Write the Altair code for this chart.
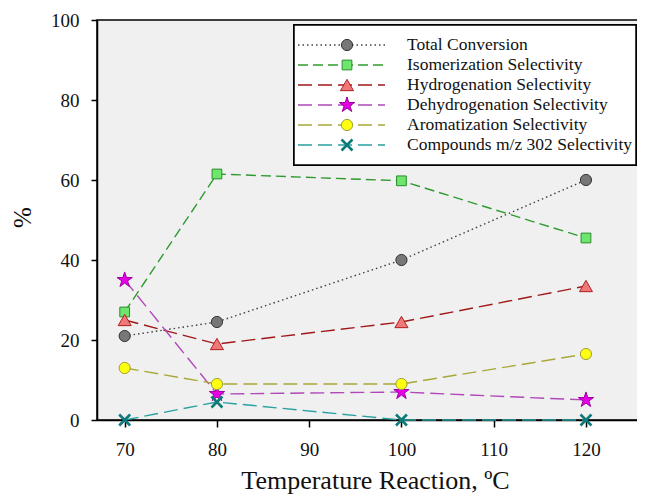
import altair as alt
import pandas as pd

# ---- data ----
temps = [70, 80, 100, 120]
series = [
    "Total Conversion",
    "Isomerization Selectivity",
    "Hydrogenation Selectivity",
    "Dehydrogenation Selectivity",
    "Aromatization Selectivity",
    "Compounds m/z 302 Selectivity",
]
total_conv = [21.0, 24.5, 40.0, 60.0]
isomer = [27.0, 61.5, 59.8, 45.5]
hydro = [25.0, 19.0, 24.5, 33.5]
dehydro = [35.0, 6.5, 7.0, 5.0]
aromat = [13.0, 9.0, 9.0, 16.5]
compounds = [0.0, 4.5, 0.0, 0.0]
x_ticks = [70, 80, 90, 100, 110, 120]
y_ticks = [0, 20, 40, 60, 80, 100]

values = [total_conv, isomer, hydro, dehydro, aromat, compounds]
rows = []
for name, vals in zip(series, values):
    for t, v in zip(temps, vals):
        rows.append({"series": name, "temp": t, "value": v})
df = pd.DataFrame(rows)
leg_df = pd.DataFrame({"series": series, "row": list(range(len(series)))})

# ---- styles ----
line_colors = ["#404040", "#2f9a2f", "#a01818", "#b048b8", "#a8a838", "#2aa0a0"]
dashes = [[1.5, 3], [10, 5], [14, 6], [14, 6], [14, 6], [14, 6]]
star = ("M0,-1L0.2245,-0.309L0.951,-0.309L0.363,0.118L0.588,0.809L0,0.382"
        "L-0.588,0.809L-0.363,0.118L-0.951,-0.309L-0.2245,-0.309Z")
xshape = "M-1,-1L1,1M-1,1L1,-1"
shapes = ["circle", "square", "triangle-up", star, "circle", xshape]
fills = ["#777777", "#6ee66e", "#f07878", "#e600e6", "#ffff10", "#107878"]
strokes = ["#333333", "#2a8c2a", "#b02020", "#a000a0", "#a0a030", "#0f7a7a"]
sizes = [125, 95, 170, 260, 125, 120]
X_SERIES = series[-1]

FONT = "Liberation Serif"

color_sc = alt.Scale(domain=series, range=line_colors)
dash_sc = alt.Scale(domain=series, range=dashes)
shape_sc = alt.Scale(domain=series, range=shapes)
fill_sc = alt.Scale(domain=series, range=fills)
stroke_sc = alt.Scale(domain=series, range=strokes)
size_sc = alt.Scale(type="ordinal", domain=series, range=sizes)
sw_enc = alt.condition(alt.datum.series == X_SERIES, alt.value(2.6), alt.value(1))

x_enc = alt.X(
    "temp:Q",
    scale=alt.Scale(domain=[67, 126.4], nice=False, zero=False),
    axis=alt.Axis(
        values=x_ticks, title="Temperature Reaction, ºC", grid=False,
        labelFontSize=19, titleFontSize=26, titleFontWeight="normal",
        tickSize=7, labelPadding=13, titleX=278, titleY=68,
        titleBaseline="alphabetic", titleAnchor="middle", titleAlign="center",
    ),
)
y_enc = alt.Y(
    "value:Q",
    scale=alt.Scale(domain=[0, 100], nice=False),
    axis=alt.Axis(
        values=y_ticks, title="%", grid=False, labelFontSize=19,
        titleFontSize=25, titleFontWeight="normal", tickSize=6,
        labelPadding=12, titleX=-75, titleY=197, titleAngle=270,
        titleAlign="center", titleBaseline="middle",
    ),
)

lines = alt.Chart(df).mark_line(strokeWidth=1.4).encode(
    x=x_enc, y=y_enc,
    color=alt.Color("series:N", scale=color_sc, legend=None),
    strokeDash=alt.StrokeDash("series:N", scale=dash_sc, legend=None),
    detail="series:N",
)
points = alt.Chart(df).mark_point(filled=True, opacity=1).encode(
    x="temp:Q", y="value:Q",
    shape=alt.Shape("series:N", scale=shape_sc, legend=None),
    fill=alt.Fill("series:N", scale=fill_sc, legend=None),
    stroke=alt.Stroke("series:N", scale=stroke_sc, legend=None),
    size=alt.Size("series:N", scale=size_sc, legend=None),
    strokeWidth=sw_enc,
)
main = alt.layer(lines, points)

# ---- custom legend ----
ly = alt.Y("row:Q", scale=alt.Scale(domain=[0, 5], range=[25, 125]), axis=None)
box = alt.Chart(leg_df).mark_rect(fill="white", stroke="black", strokeWidth=1.5).encode(
    x=alt.value(197), x2=alt.value(539), y=alt.value(5), y2=alt.value(145)
)
leg_lines = alt.Chart(leg_df).mark_rule(strokeWidth=1.4).encode(
    x=alt.value(201), x2=alt.value(288), y=ly,
    color=alt.Color("series:N", scale=color_sc, legend=None),
    strokeDash=alt.StrokeDash("series:N", scale=dash_sc, legend=None),
)
leg_pts = alt.Chart(leg_df).mark_point(filled=True, opacity=1).encode(
    x=alt.value(250), y=ly,
    shape=alt.Shape("series:N", scale=shape_sc, legend=None),
    fill=alt.Fill("series:N", scale=fill_sc, legend=None),
    stroke=alt.Stroke("series:N", scale=stroke_sc, legend=None),
    size=alt.Size("series:N", scale=size_sc, legend=None),
    strokeWidth=sw_enc,
)
leg_text = alt.Chart(leg_df).mark_text(
    align="left", baseline="middle", font=FONT, fontSize=17.5, color="#111111"
).encode(x=alt.value(310), y=ly, text="series:N")
legend = alt.layer(box, leg_lines, leg_pts, leg_text)

chart = (
    alt.layer(main, legend)
    .resolve_scale(y="independent")
    .properties(
        width=548, height=400,
        autosize=alt.AutoSizeParams(type="none"),
        padding={"left": 89, "top": 12, "right": -8, "bottom": 74},
    )
    .configure_view(fill="#f0f0f0", stroke="black", strokeWidth=1.5)
    .configure_axis(
        labelFont=FONT, titleFont=FONT, labelColor="#111111",
        titleColor="#111111", domainColor="black", domainWidth=1.5,
        tickColor="black", tickWidth=1.5,
    )
)

chart.save("out.html", embed_options={"renderer": "svg", "actions": False})
